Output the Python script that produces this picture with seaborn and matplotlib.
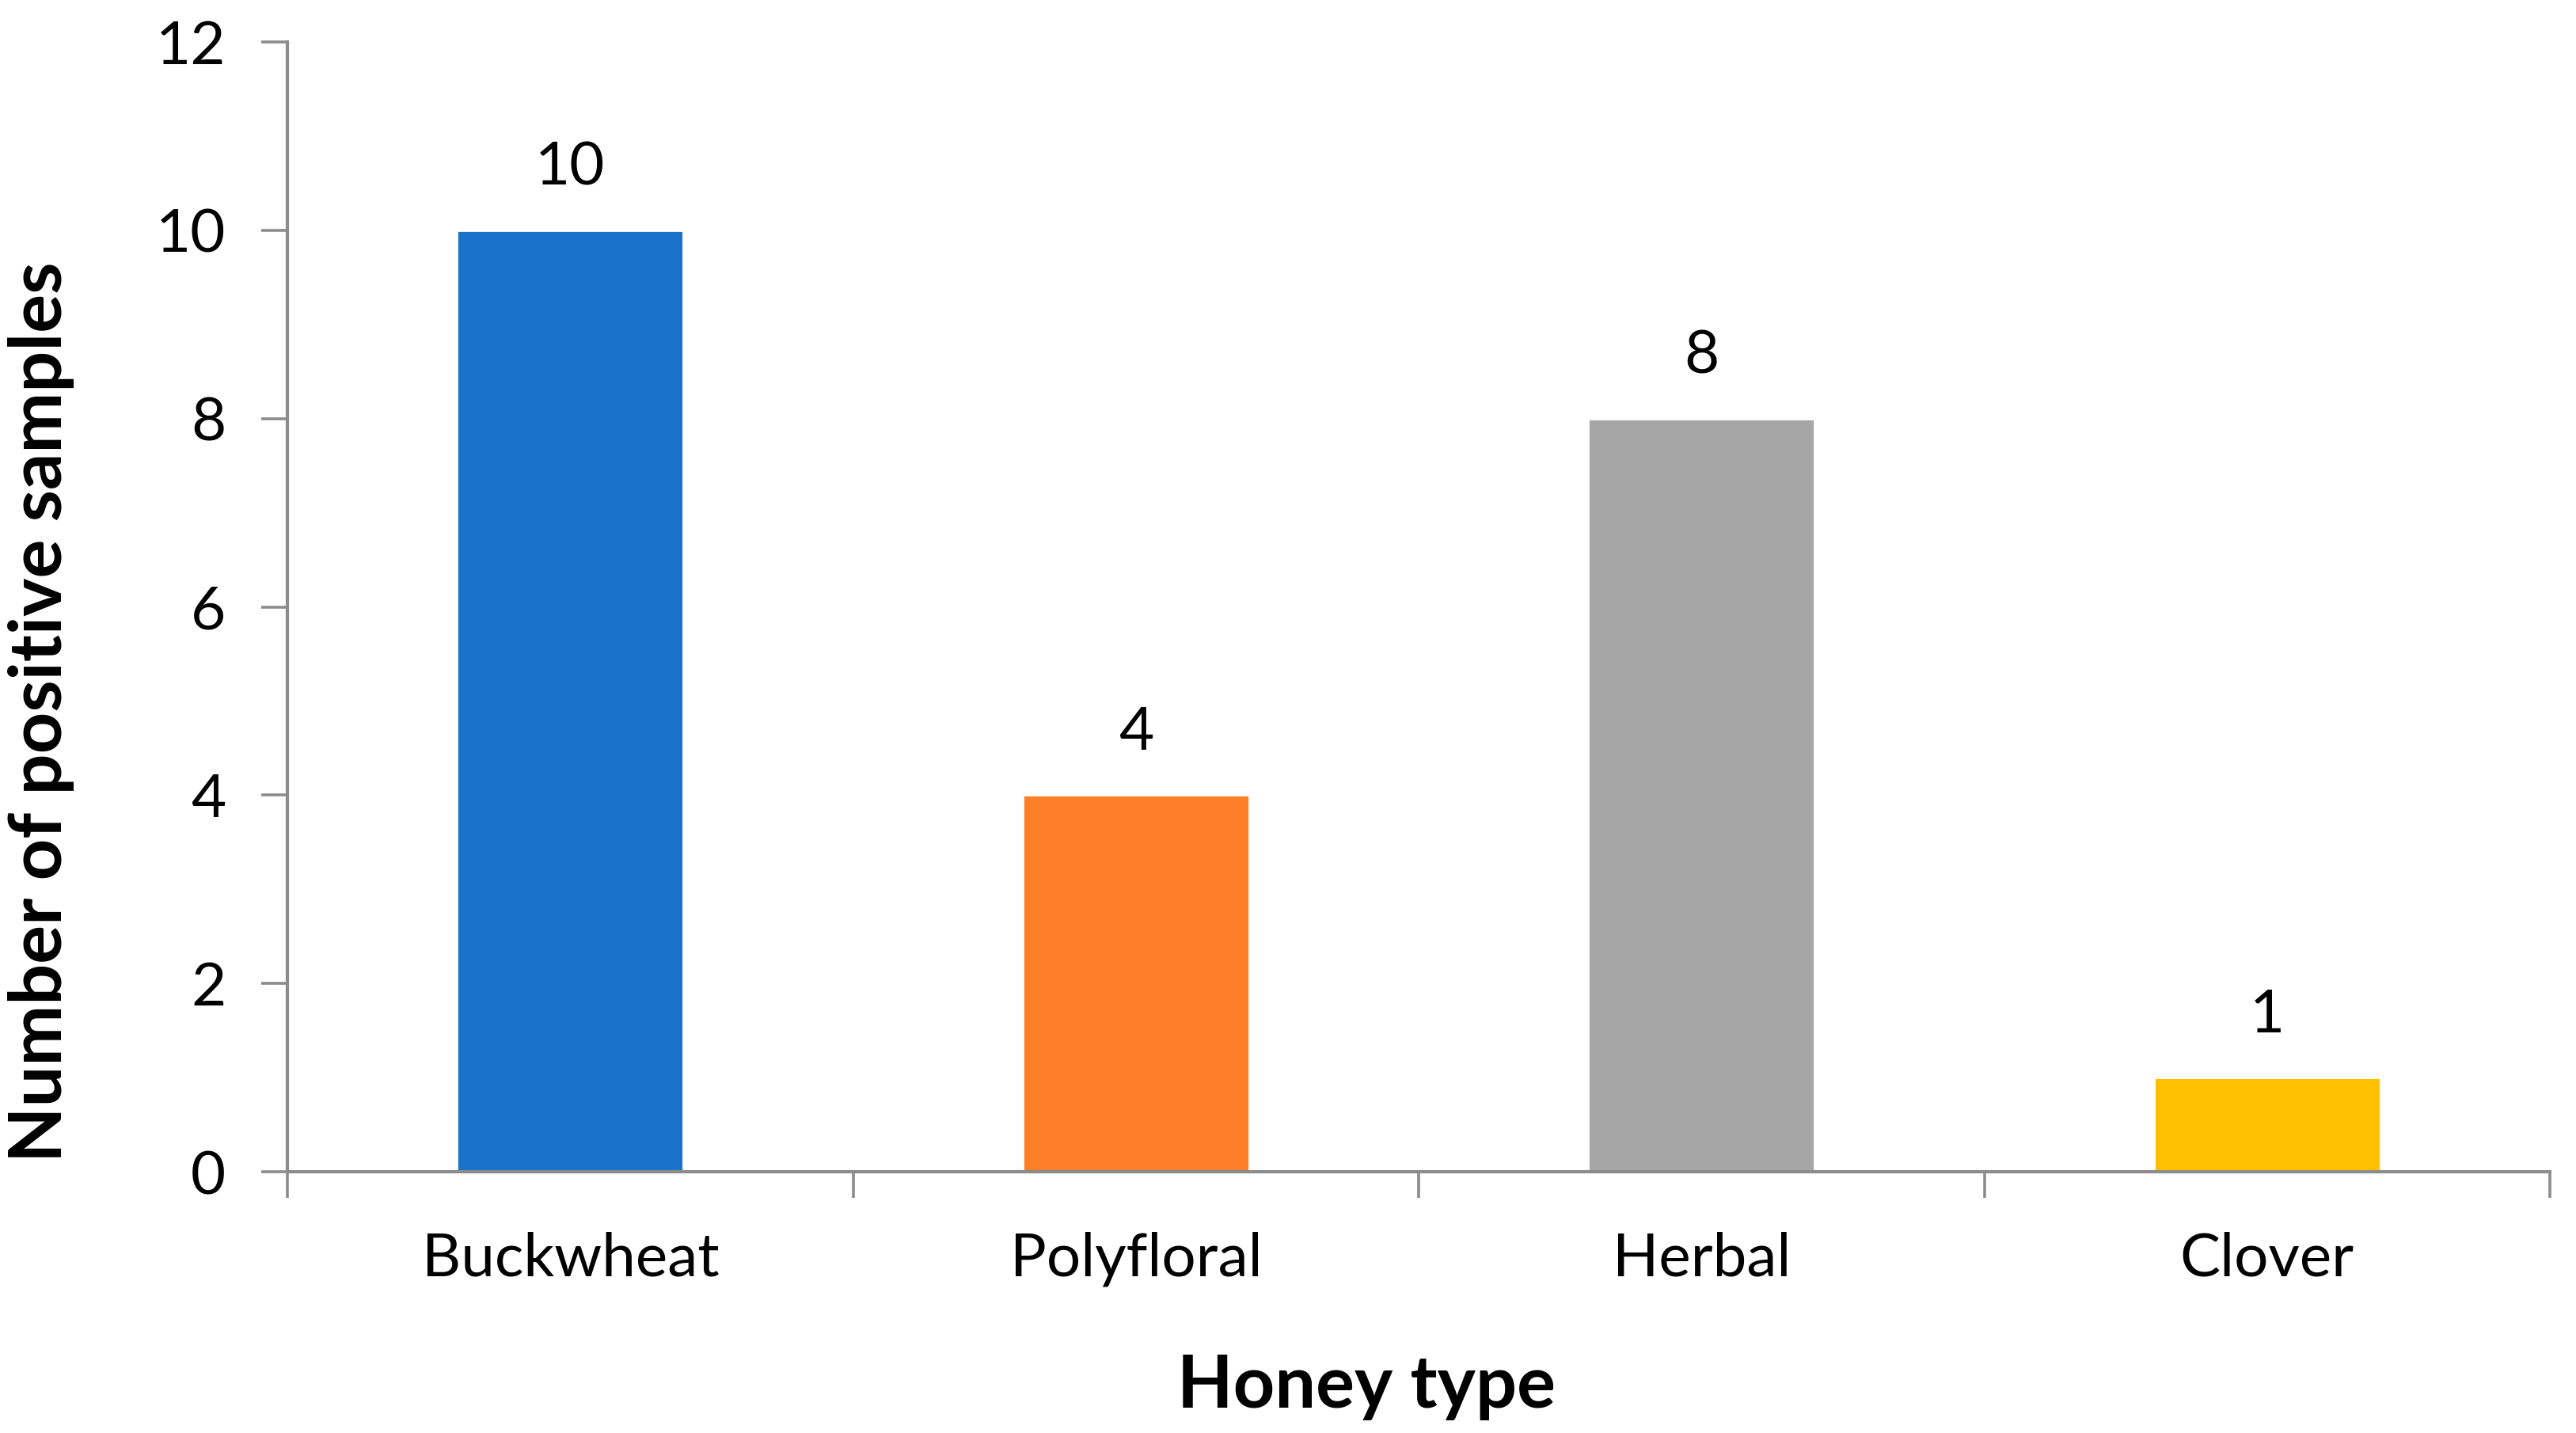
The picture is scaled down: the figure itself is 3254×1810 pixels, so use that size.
import pandas as pd
import seaborn as sns
import matplotlib.pyplot as plt

# dados do grafico
tipos_mel = ['Buckwheat', 'Polyfloral', 'Herbal', 'Clover']
amostras_positivas = [10, 4, 8, 1]
cores = ['#1A73C8', '#FD7F28', '#A6A6A6', '#FFC000']

dados = pd.DataFrame({'tipo': tipos_mel, 'quantidade': amostras_positivas})

sns.set_theme(style='white', rc={'text.color': 'black', 'axes.labelcolor': 'black',
                                 'xtick.color': 'black', 'ytick.color': 'black'})
plt.rcParams['font.family'] = ['Lato', 'DejaVu Sans']
cinza = '#8C8C8C'

fig = plt.figure(figsize=(16.27, 9.05), dpi=200)
ax = fig.add_axes([0.1116, 0.1823, 0.8783, 0.7884])

sns.barplot(data=dados, x='tipo', y='quantidade', hue='tipo', palette=cores,
            width=0.4, legend=False, saturation=1, ax=ax)

# rotulos acima das barras
for c in ax.containers:
    ax.bar_label(c, padding=16, fontsize=27.5, color='black')

ax.set_xlim(-0.5, 3.5)
ax.set_ylim(0, 12)
ax.set_yticks(range(0, 13, 2))

# ticks do eixo x nos limites das categorias
ax.set_xticks([-0.5, 0.5, 1.5, 2.5, 3.5], minor=True)
ax.tick_params(axis='x', which='major', length=0, pad=27, labelsize=27.5, labelcolor='black')
ax.tick_params(axis='x', which='minor', length=12, width=1.3, color=cinza, direction='out', bottom=True)
ax.tick_params(axis='y', length=12, width=1.3, color=cinza, direction='out', left=True, pad=16,
               labelsize=27.5, labelcolor='black')

for lado in ['top', 'right']:
    ax.spines[lado].set_visible(False)
for lado in ['left', 'bottom']:
    ax.spines[lado].set_color(cinza)
    ax.spines[lado].set_linewidth(1.5)

ax.set_xlabel('Honey type', fontsize=33, weight='bold')
ax.set_ylabel('Number of positive samples', fontsize=33, weight='bold')
ax.xaxis.set_label_coords(0.477, -0.161)
ax.yaxis.set_label_coords(-0.094, 0.407)

fig.savefig('out.png', dpi=200)
